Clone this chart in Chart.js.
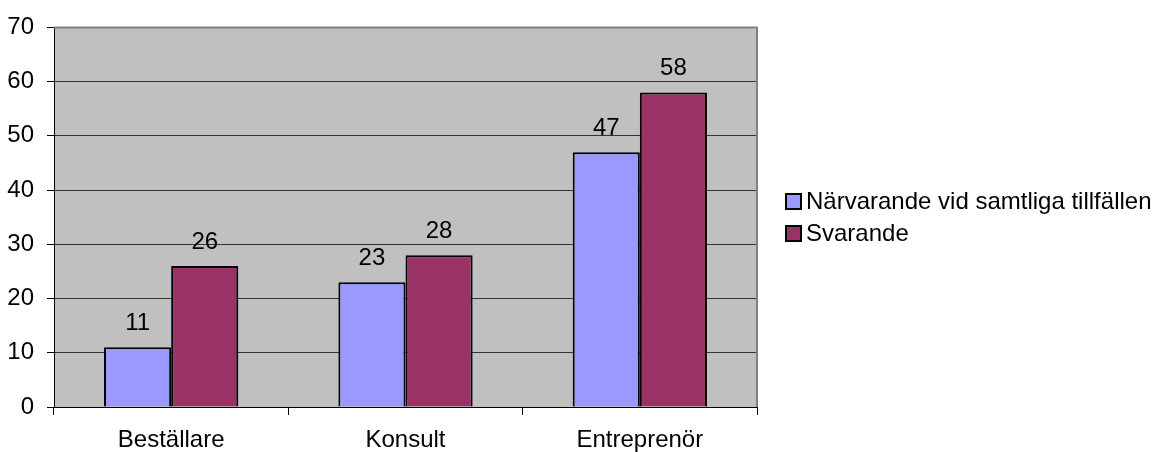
<!DOCTYPE html>
<html>
<head>
<meta charset="utf-8">
<script src="https://cdn.jsdelivr.net/npm/chart.js@4/dist/chart.umd.min.js"></script>
<style>
  html, body { margin: 0; padding: 0; background: #fff; }
  #wrap { position: relative; width: 1156px; height: 452px; }
  #legend { position: absolute; left: 785px; top: 185px; font-family: "Liberation Sans", Arial, sans-serif; font-size: 24px; color: #000; }
  .row { display: flex; align-items: center; height: 32px; white-space: nowrap; }
  .box { width: 13px; height: 13px; border: 2px solid #000; margin-right: 4px; flex: none; }
</style>
</head>
<body>
<div id="wrap">
  <canvas id="c" width="1156" height="452"></canvas>
  <div id="legend"></div>
</div>
<script>
const categories = ["Beställare", "Konsult", "Entreprenör"];
const seriesNames = ["Närvarande vid samtliga tillfällen", "Svarande"];
const narvarande = [11, 23, 47];
const svarande = [26, 28, 58];
const yTicks = [0, 10, 20, 30, 40, 50, 60, 70];
const colors = ["#9999FF", "#993366"];

const FONT = "'Liberation Sans', Arial, sans-serif";

const bgPlugin = {
  id: 'bg',
  beforeDraw(chart) {
    const a = chart.chartArea, ctx = chart.ctx;
    ctx.save();
    ctx.fillStyle = '#C0C0C0';
    ctx.fillRect(a.left, a.top, a.right - a.left, a.bottom - a.top);
    ctx.restore();
  },
  afterDraw(chart) {
    const a = chart.chartArea, ctx = chart.ctx;
    ctx.save();
    ctx.strokeStyle = '#808080';
    ctx.lineWidth = 2;
    ctx.beginPath();
    ctx.moveTo(a.left, a.top);
    ctx.lineTo(a.right, a.top);
    ctx.lineTo(a.right, a.bottom);
    ctx.stroke();
    ctx.restore();
  }
};

const labelPlugin = {
  id: 'vals',
  afterDatasetsDraw(chart) {
    const ctx = chart.ctx;
    ctx.save();
    ctx.font = "24px " + FONT;
    ctx.fillStyle = '#000';
    ctx.textAlign = 'center';
    ctx.textBaseline = 'alphabetic';
    chart.data.datasets.forEach((ds, i) => {
      chart.getDatasetMeta(i).data.forEach((el, j) => {
        ctx.fillText(String(ds.data[j]), el.x, el.y - 17);
      });
    });
    ctx.restore();
  }
};

new Chart(document.getElementById('c'), {
  type: 'bar',
  data: {
    labels: categories,
    datasets: [
      { label: seriesNames[0], data: narvarande, backgroundColor: colors[0], borderColor: '#000', borderWidth: 2, categoryPercentage: 0.573, barPercentage: 1 },
      { label: seriesNames[1], data: svarande, backgroundColor: colors[1], borderColor: '#000', borderWidth: 2, categoryPercentage: 0.573, barPercentage: 1 }
    ]
  },
  options: {
    responsive: false,
    animation: false,
    devicePixelRatio: 1,
    layout: { padding: { left: 0, right: 399, top: 23, bottom: 0 } },
    plugins: { legend: { display: false }, tooltip: { enabled: false } },
    scales: {
      x: {
        offset: true,
        grid: { offset: true, drawOnChartArea: false, color: '#000', tickLength: 8 },
        border: { color: '#000', width: 1 },
        ticks: { font: { family: FONT, size: 24 }, color: '#000', padding: 11, maxRotation: 0 },
        afterFit(s) { s.height = 45; }
      },
      y: {
        min: 0, max: 70,
        afterBuildTicks(s) { s.ticks = yTicks.map(v => ({ value: v })); },
        grid: {
          color: ctx => (ctx.tick && ctx.tick.value === 70) ? 'rgba(0,0,0,0)' : '#333333',
          tickColor: '#000', tickLength: 7, lineWidth: 1
        },
        border: { color: '#000', width: 1 },
        ticks: { font: { family: FONT, size: 24 }, color: '#000', padding: 13 },
        afterFit(s) { s.width = 54; }
      }
    }
  },
  plugins: [bgPlugin, labelPlugin]
});

const leg = document.getElementById('legend');
seriesNames.forEach((n, i) => {
  const r = document.createElement('div');
  r.className = 'row';
  const b = document.createElement('span');
  b.className = 'box';
  b.style.background = colors[i];
  const t = document.createElement('span');
  t.textContent = n;
  r.appendChild(b); r.appendChild(t);
  leg.appendChild(r);
});
</script>
</body>
</html>
